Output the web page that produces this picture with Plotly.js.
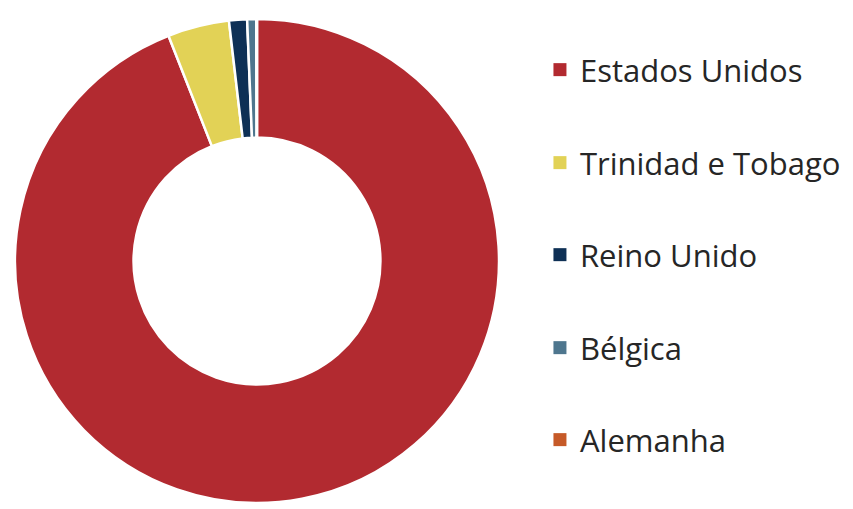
<!DOCTYPE html>
<html>
<head>
<meta charset="utf-8">
<script src="https://cdn.plot.ly/plotly-3.0.1.min.js"></script>
<style>html,body{margin:0;padding:0;background:#fff;}#chart{width:853px;height:509px;}</style>
</head>
<body>
<div id="chart"></div>
<script>
const categories = ["Estados Unidos", "Trinidad e Tobago", "Reino Unido", "Bélgica", "Alemanha"];
const shares = [93.9, 4.1, 1.2, 0.6, 0.05];
const colors = ["#B22A30", "#E2D256", "#0E3055", "#4E768E", "#C65A28"];
const legendY = [0.8625, 0.6798, 0.499, 0.3163, 0.1356];

const traces = [{
  type: "pie",
  labels: categories,
  values: shares,
  sort: false,
  direction: "clockwise",
  rotation: 0,
  hole: 0.51,
  textinfo: "none",
  hoverinfo: "label+percent",
  marker: {colors: colors, line: {color: "#ffffff", width: 2.5}},
  domain: {x: [0.0176, 0.5850], y: [0.0020, 0.9725]},
  showlegend: false
}];

const layout = {
  width: 853, height: 509,
  margin: {l: 0, r: 0, t: 0, b: 0},
  paper_bgcolor: "#ffffff",
  plot_bgcolor: "#ffffff",
  xaxis: {visible: false, domain: [0.9, 1]},
  yaxis: {visible: false, domain: [0.9, 1]},
  showlegend: true
};

categories.forEach((c, i) => {
  const key = i === 0 ? "legend" : "legend" + (i + 1);
  traces.push({
    type: "scatter", mode: "markers",
    x: [null], y: [null],
    name: c,
    marker: {symbol: "square", size: 13, color: colors[i]},
    legend: key,
    hoverinfo: "skip"
  });
  layout[key] = {
    x: 0.6330, xanchor: "left",
    y: legendY[i], yanchor: "middle",
    bgcolor: "rgba(0,0,0,0)",
    borderwidth: 0,
    font: {family: "Open Sans", size: 31, color: "#262626"},
    itemclick: false, itemdoubleclick: false
  };
});

Plotly.newPlot("chart", traces, layout, {displayModeBar: false, staticPlot: true});
</script>
</body>
</html>
